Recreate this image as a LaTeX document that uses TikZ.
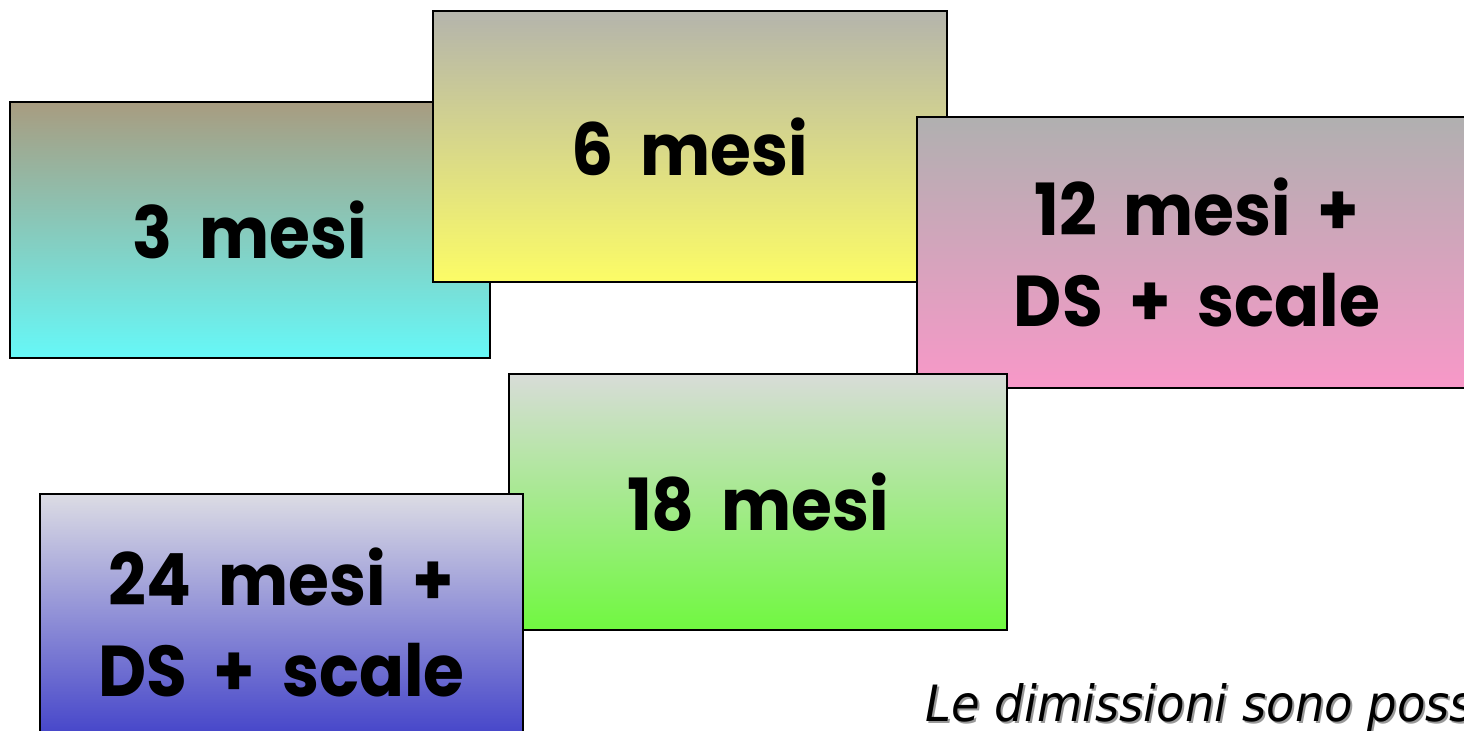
\documentclass[tikz,border=0pt]{standalone}
\usepackage{fontspec}
\newfontfamily\boxfont{Poppins}[WordSpace=1.9, FakeStretch=0.92]
\newfontfamily\capfont{DejaVu Sans}[FakeStretch=0.93]
\definecolor{c3t}{HTML}{A89C80}\definecolor{c3b}{HTML}{66F8F8}
\definecolor{c6t}{HTML}{B4B4AC}\definecolor{c6b}{HTML}{FCFC66}
\definecolor{c12t}{HTML}{B0B0B0}\definecolor{c12b}{HTML}{F898C8}
\definecolor{c18t}{HTML}{D8DCD8}\definecolor{c18b}{HTML}{70F840}
\definecolor{c24t}{HTML}{DCDCE4}\definecolor{c24b}{HTML}{3C3CC8}
\tikzset{
  card/.style={draw=black, line width=1pt, rectangle, anchor=north west, inner sep=0pt,
    align=center, font=\boxfont\bfseries\fontsize{36}{45.5}\selectfont},
  captext/.style={anchor=base west, inner sep=0pt, font=\capfont\itshape\fontsize{25}{30}\selectfont},
}
\begin{document}
\begin{tikzpicture}[x=0.5pt,y=-0.5pt]
\clip (0,0) rectangle (1464,731);
\fill[white] (0,0) rectangle (1464,731);
\node[card, top color=c3t, bottom color=c3b, minimum width=240pt, minimum height=128pt] (b3) at (9,101) {3 mesi};
\node[card, top color=c6t, bottom color=c6b, minimum width=257pt, minimum height=135.5pt] (b6) at (432,10) {6 mesi};
\node[card, top color=c12t, bottom color=c12b, minimum width=280pt, minimum height=135.5pt] (b12) at (916,116) {12 mesi +\\DS + scale};
\node[card, top color=c18t, bottom color=c18b, minimum width=249pt, minimum height=128pt] (b18) at (508,373) {18 mesi};
\node[card, top color=c24t, bottom color=c24b, minimum width=241.5pt, minimum height=128pt] (b24) at (39,493) {24 mesi +\\DS + scale};
\node[captext, text=black!40] (capsh) at (927,724) {Le dimissioni sono poss};
\node[captext, text=black] (cap) at (925,722) {Le dimissioni sono poss};
\end{tikzpicture}
\end{document}
